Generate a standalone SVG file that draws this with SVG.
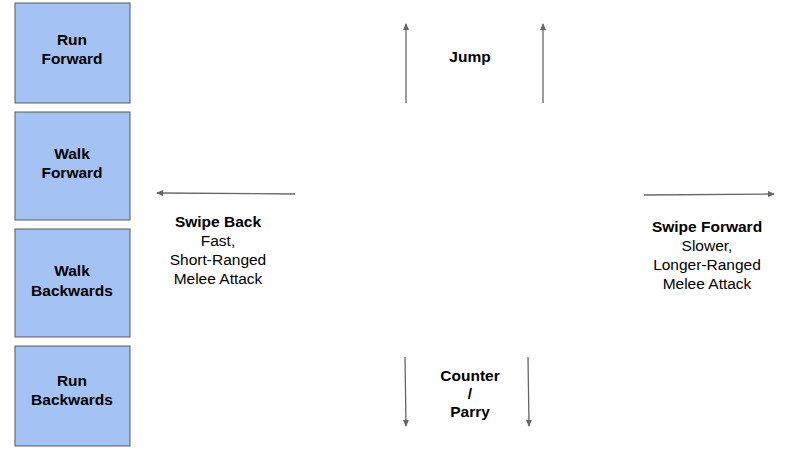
<svg xmlns="http://www.w3.org/2000/svg" width="811" height="453" viewBox="0 0 811 453">
<style>
.box{fill:#a4c2f4;stroke:#595959;stroke-width:1}
.t{font-family:"Liberation Sans",Arial,sans-serif;font-size:15.5px;fill:#000;text-anchor:middle}
.b{font-weight:bold}
.c{stroke:#666;stroke-width:1.3;fill:none;marker-end:url(#ah)}
</style>
<defs>
<marker id="ah" markerWidth="8" markerHeight="8" refX="6" refY="3" orient="auto" markerUnits="userSpaceOnUse">
<path d="M0,0 L7,3 L0,6 z" fill="#666"/>
</marker>
</defs>
<rect width="811" height="453" fill="#fff"/>
<g id="run-forward"><rect class="box" x="15" y="3" width="115" height="100"/><text class="t b" x="72" y="45">Run</text><text class="t b" x="72" y="64">Forward</text></g>
<g id="walk-forward"><rect class="box" x="15" y="112" width="115" height="108"/><text class="t b" x="72" y="159">Walk</text><text class="t b" x="72" y="178">Forward</text></g>
<g id="walk-backwards"><rect class="box" x="15" y="229" width="115" height="108"/><text class="t b" x="72" y="276">Walk</text><text class="t b" x="72" y="296">Backwards</text></g>
<g id="run-backwards"><rect class="box" x="15" y="346" width="115" height="100"/><text class="t b" x="72" y="386">Run</text><text class="t b" x="72" y="405">Backwards</text></g>
<g id="connectors">
<line class="c" x1="406" y1="103" x2="406" y2="24"/>
<line class="c" x1="543" y1="103" x2="543" y2="24"/>
<line class="c" x1="405" y1="357" x2="406" y2="426"/>
<line class="c" x1="528" y1="357" x2="529" y2="426"/>
<line class="c" x1="295" y1="194" x2="157" y2="193"/>
<line class="c" x1="644" y1="195" x2="774" y2="194"/>
</g>
<g id="jump"><text class="t b" x="470" y="62">Jump</text></g>
<g id="counter"><text class="t b" x="470" y="381">Counter</text><text class="t b" x="470" y="399">/</text><text class="t b" x="470" y="417">Parry</text></g>
<g id="swipe-back"><text class="t b" x="218" y="227">Swipe Back</text><text class="t" x="218" y="246">Fast,</text><text class="t" x="218" y="265">Short-Ranged</text><text class="t" x="218" y="284">Melee Attack</text></g>
<g id="swipe-forward"><text class="t b" x="707" y="232">Swipe Forward</text><text class="t" x="707" y="251">Slower,</text><text class="t" x="707" y="270">Longer-Ranged</text><text class="t" x="707" y="289">Melee Attack</text></g>
</svg>
